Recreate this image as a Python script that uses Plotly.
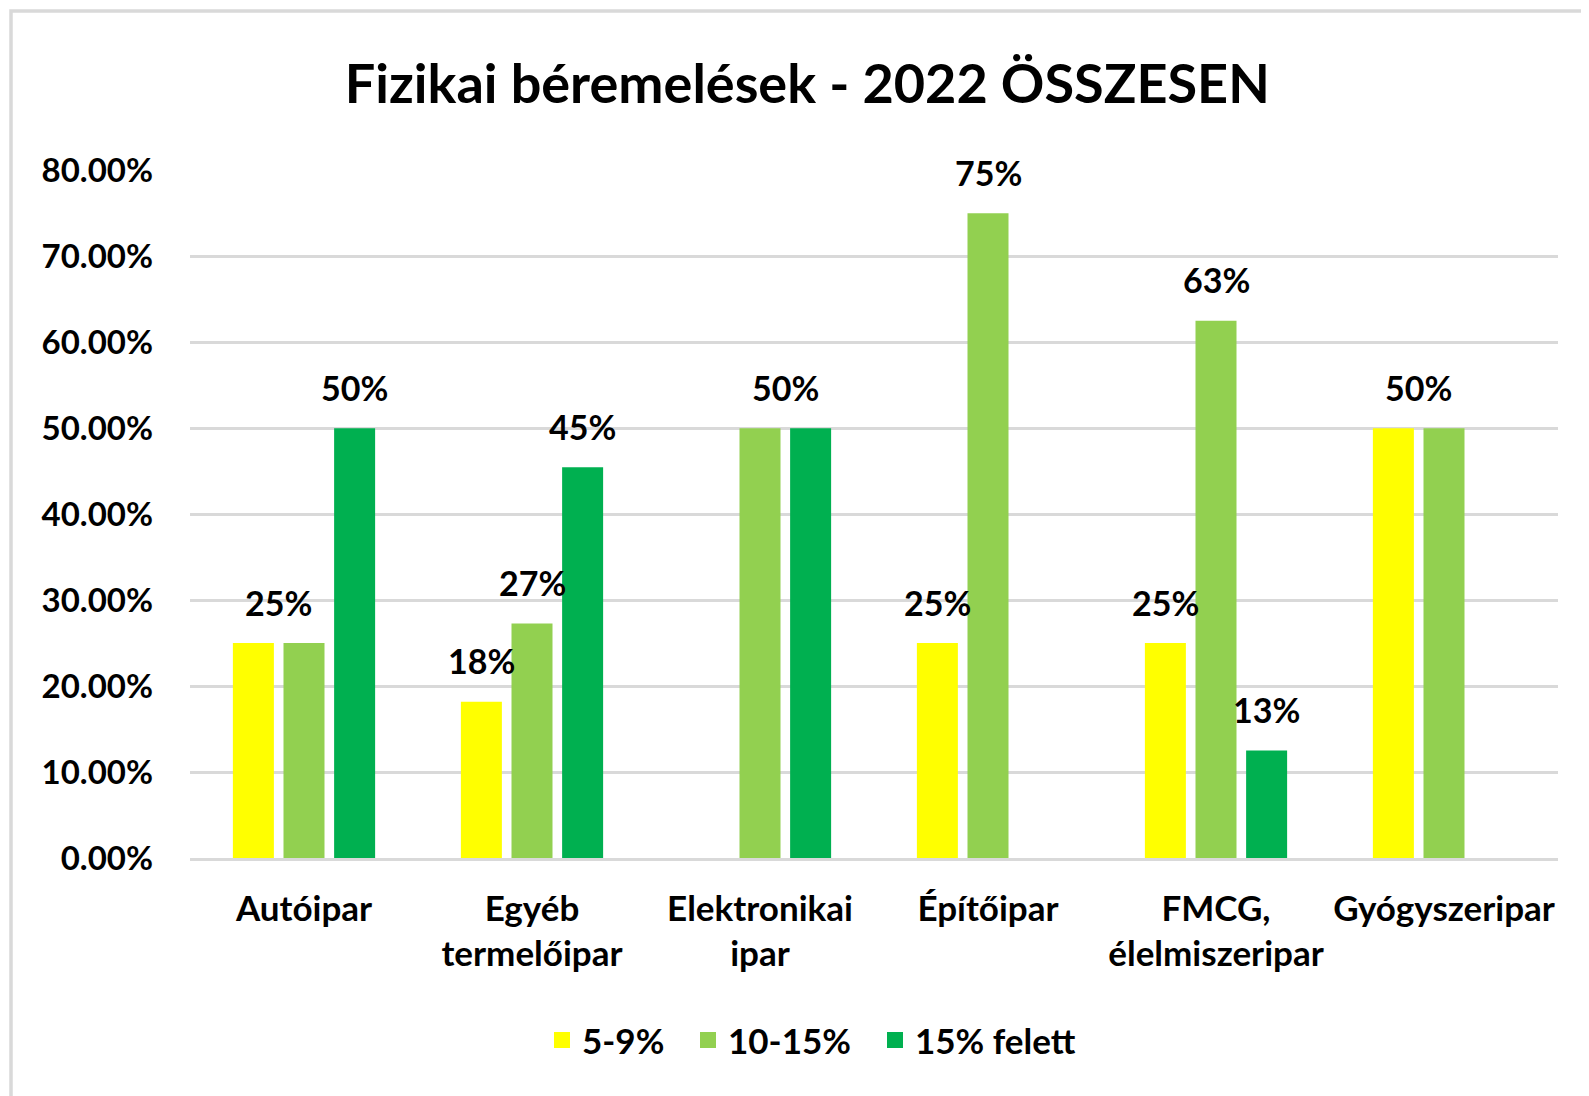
import math
import plotly.graph_objects as go

categories = ["Autóipar", "Egyéb<br>termelőipar", "Elektronikai<br>ipar", "Építőipar",
              "FMCG,<br>élelmiszeripar", "Gyógyszeripar"]
series_names = ["5-9%", "10-15%", "15% felett"]
s_5_9 = [0.25, 0.1818, 0.0, 0.25, 0.25, 0.50]
s_10_15 = [0.25, 0.2727, 0.50, 0.75, 0.625, 0.50]
s_15_plus = [0.50, 0.4545, 0.50, 0.0, 0.125, 0.0]
colors = ["#FFFF00", "#92D050", "#00B050"]
y_ticks = [0, 0.1, 0.2, 0.3, 0.4, 0.5, 0.6, 0.7, 0.8]

FONT = "Lato"
BLACK = "#000000"
series = [s_5_9, s_10_15, s_15_plus]

L, R, T, B = 182, 39, 162, 246
W, H = 1589, 1096
PW, PH = W - L - R, H - T - B

legend_ids = ["legend", "legend2", "legend3"]
legend_left_px = [534, 680, 867]   # left edge of each legend box (div px)

fig = go.Figure()
for name, vals, col in zip(series_names, series, colors):
    fig.add_trace(go.Bar(x=categories, y=vals, name=name, marker_color=col,
                         marker_line_width=0, showlegend=False))
# legend entries with larger square swatches
for name, col, lid in zip(series_names, colors, legend_ids):
    fig.add_trace(go.Scatter(x=[None], y=[None], mode="markers", name=name, legend=lid,
                             marker=dict(symbol="square", size=21, color=col)))

# data labels (equal adjacent values share one centered label)
slot = 50.5
annotations = []
for ci, cat in enumerate(categories):
    vals = [s[ci] for s in series]
    i = 0
    while i < 3:
        if vals[i] <= 0:
            i += 1
            continue
        j = i
        while j + 1 < 3 and abs(vals[j + 1] - vals[i]) < 1e-9:
            j += 1
        pos = (i + j) / 2 - 1
        pct = int(math.floor(vals[i] * 100 + 0.5))
        annotations.append(dict(x=cat, y=vals[i], xref="x", yref="y",
                                text=f"{pct}%", showarrow=False,
                                xshift=pos * slot, yshift=41, yanchor="middle",
                                font=dict(family=FONT, size=34, color=BLACK, weight="bold")))
        i = j + 1

legend_common = dict(orientation="h", y=-0.265, yanchor="middle", xanchor="left",
                     font=dict(family=FONT, size=35, color=BLACK, weight="bold"),
                     itemwidth=30, bgcolor="rgba(0,0,0,0)")

fig.update_layout(
    width=W, height=H,
    margin=dict(l=L, r=R, t=T, b=B),
    paper_bgcolor="white", plot_bgcolor="white",
    title=dict(text="<b>Fizikai béremelések - 2022 ÖSSZESEN</b>", x=0.503, xanchor="center",
               y=1 - 76 / H, yanchor="middle",
               font=dict(family=FONT, size=54, color=BLACK)),
    barmode="group", bargap=0.334, bargroupgap=0.19,
    font=dict(family=FONT, size=33, color=BLACK, weight="bold"),
    legend=dict(x=(legend_left_px[0] - L) / PW, **legend_common),
    legend2=dict(x=(legend_left_px[1] - L) / PW, **legend_common),
    legend3=dict(x=(legend_left_px[2] - L) / PW, **legend_common),
    annotations=annotations,
    shapes=[dict(type="rect", xref="paper", yref="paper",
                 x0=(3 - L) / PW, x1=1.2, y0=-0.6, y1=1 + (T - 3) / PH,
                 line=dict(color="#D9D9D9", width=3.5), fillcolor="rgba(0,0,0,0)",
                 layer="below")],
)
fig.update_yaxes(range=[0, 0.8004], tickvals=y_ticks, tickformat=".2%", showgrid=True,
                 gridcolor="#D9D9D9", gridwidth=2.5, zeroline=False, showline=False,
                 ticklabelstandoff=36,
                 tickfont=dict(family=FONT, size=33, color=BLACK, weight="bold"))
fig.update_xaxes(showline=True, linecolor="#D9D9D9", linewidth=2.5, ticks="",
                 ticklabelstandoff=18,
                 tickfont=dict(family=FONT, size=35, color=BLACK, weight="bold"))

fig.write_html("out.html")
